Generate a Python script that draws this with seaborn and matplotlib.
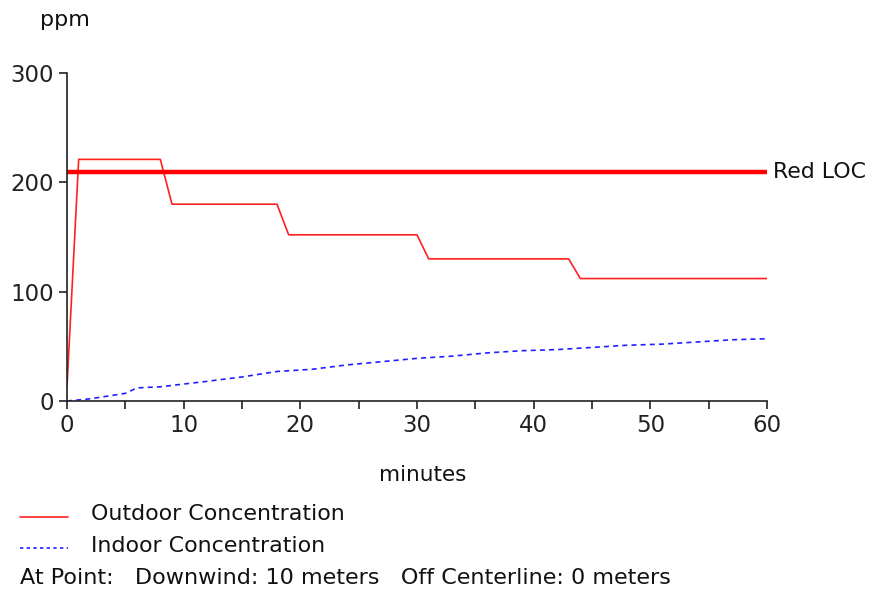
import numpy as np
import pandas as pd
import seaborn as sns
from matplotlib import pyplot as plt
from matplotlib.lines import Line2D

# outdoor concentration (minutes, ppm)
outdoor_t = [0, 1, 8, 9, 18, 19, 30, 31, 43, 44, 60]
outdoor_ppm = [13, 221, 221, 180, 180, 152, 152, 130, 130, 112, 112]

# indoor concentration (minutes, ppm)
indoor_t = [0, 2, 5, 6, 8, 12, 15, 18, 21, 24, 27, 30, 33, 36, 39, 42, 45, 48, 51, 54, 57, 60]
indoor_ppm = [0, 2, 7, 12, 13, 18, 22, 27, 29, 33, 36, 39, 41, 44, 46, 47, 49, 51, 52, 54, 56, 57]

red_loc = 209
loc_label = "Red LOC"
x_ticks = [0, 10, 20, 30, 40, 50, 60]
y_ticks = [0, 100, 200, 300]
legend_labels = ["Outdoor Concentration", "Indoor Concentration"]
point_text = "At Point:   Downwind: 10 meters   Off Centerline: 0 meters"

sns.set_style("ticks")
plt.rcParams["font.family"] = ["DejaVu Sans"]

fig = plt.figure(figsize=(8.7, 5.9), dpi=100)
ax = fig.add_axes([67 / 870, 1 - 401 / 590, 700 / 870, 328 / 590])

outdoor = pd.DataFrame({"t": outdoor_t, "ppm": outdoor_ppm})
indoor = pd.DataFrame({"t": indoor_t, "ppm": indoor_ppm})

sns.lineplot(data=outdoor, x="t", y="ppm", ax=ax, color="#ff2020", lw=1.2)
sns.lineplot(data=indoor, x="t", y="ppm", ax=ax, color="#2020ff", lw=1.2,
             linestyle=(0, (3, 2.5)))
ax.axhline(red_loc, color="#ff0000", lw=3.2, solid_capstyle="butt")
ax.text(60.55, red_loc, loc_label, fontsize=15.8, color="#111111",
        va="center", ha="left", clip_on=False)

ax.set_xlim(0, 60)
ax.set_ylim(0, 300)
ax.set_xticks(np.arange(0, 61, 5))
ax.set_xticklabels([str(v) if v in x_ticks else "" for v in range(0, 61, 5)])
ax.set_yticks(y_ticks)
ax.tick_params(labelsize=16.5, colors="#222222", length=6, width=1.2, direction="out")
ax.set_xlabel("")
ax.set_ylabel("")
for s in ["top", "right"]:
    ax.spines[s].set_visible(False)
for s in ["left", "bottom"]:
    ax.spines[s].set_color("#222222")
    ax.spines[s].set_linewidth(1.2)

fig.text(40 / 870, 1 - 20 / 590, "ppm", fontsize=16, va="center", ha="left", color="#111111")
fig.text(423 / 870, 1 - 475 / 590, "minutes", fontsize=15.5, va="center", ha="center", color="#111111")

# legend drawn below the axes
fig.add_artist(Line2D([20 / 870, 68 / 870], [1 - 517 / 590] * 2, color="#ff2020", lw=1.2,
                      transform=fig.transFigure))
fig.add_artist(Line2D([20 / 870, 68 / 870], [1 - 548 / 590] * 2, color="#2020ff", lw=1.2,
                      linestyle=(0, (2, 2)), transform=fig.transFigure))
fig.text(91 / 870, 1 - 514 / 590, legend_labels[0], fontsize=15.9, va="center", ha="left", color="#111111")
fig.text(91 / 870, 1 - 546 / 590, legend_labels[1], fontsize=15.9, va="center", ha="left", color="#111111")
fig.text(20 / 870, 1 - 578 / 590, point_text, fontsize=16, va="center", ha="left", color="#111111")

fig.savefig("out.png", dpi=100)
